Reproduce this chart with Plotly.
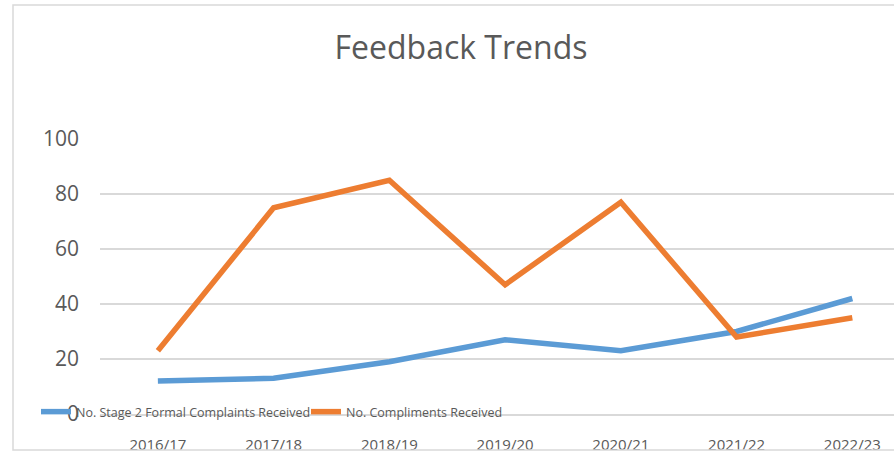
import plotly.graph_objects as go

years = ["2016/17", "2017/18", "2018/19", "2019/20", "2020/21", "2021/22", "2022/23"]
complaints = [12, 13, 19, 27, 23, 30, 42]
compliments = [23, 75, 85, 47, 77, 28, 35]
y_ticks = [0, 20, 40, 60, 80, 100]

FONT = "Open Sans, sans-serif"
TXT = "#595959"
GRID = "#d9d9d9"

L, T, B = 100, 139, 40
W, H = 894, 454
pw = W - L
ph = H - T - B

def px_x(p):
    return (p - L) / pw

def px_y(p):
    return (H - B - p) / ph

fig = go.Figure()
fig.add_trace(go.Scatter(x=years, y=complaints, mode="lines",
                         name="No. Stage 2 Formal Complaints Received",
                         line=dict(color="#5b9bd5", width=5.5), legend="legend",
                         showlegend=True))
fig.add_trace(go.Scatter(x=years, y=compliments, mode="lines",
                         name="No. Compliments Received",
                         line=dict(color="#ed7d31", width=5.5), legend="legend2",
                         showlegend=True))

leg_common = dict(orientation="h", xanchor="left", yanchor="middle",
                  bgcolor="rgba(0,0,0,0)", font=dict(size=12.5, color=TXT),
                  itemwidth=30, borderwidth=0)

fig.update_layout(
    width=W, height=H,
    showlegend=True,
    margin=dict(l=L, r=0, t=T, b=B, autoexpand=False),
    paper_bgcolor="white", plot_bgcolor="white",
    font=dict(family=FONT, color=TXT, size=14),
    title=dict(text="Feedback Trends", x=461 / W, xref="container", xanchor="center",
               y=1 - 48 / H, yref="container", yanchor="middle",
               font=dict(family=FONT, size=32, color=TXT)),
    xaxis=dict(range=[-0.5, 6.36], showgrid=False, showline=True, linecolor=GRID,
               linewidth=1.5, ticks="", tickfont=dict(size=15, color=TXT),
               ticklabelstandoff=16, fixedrange=True, automargin=False),
    yaxis=dict(range=[0, 100], tickvals=y_ticks, showgrid=True, gridcolor=GRID,
               gridwidth=1.5, zeroline=False, showline=False, ticks="",
               tickfont=dict(size=21, color=TXT), ticklabelstandoff=20,
               fixedrange=True, automargin=False),
    legend=dict(x=px_x(36), y=px_y(412), **leg_common),
    legend2=dict(x=px_x(306), y=px_y(412), **leg_common),
    shapes=[
        dict(type="rect", xref="paper", yref="paper",
             x0=px_x(0), x1=px_x(W + 5), y0=px_y(H + 5), y1=px_y(451),
             fillcolor="white", line=dict(width=0), layer="above"),
        dict(type="rect", xref="paper", yref="paper",
             x0=px_x(13), x1=px_x(W + 20), y0=px_y(450), y1=px_y(5),
             line=dict(color=GRID, width=1.5), layer="above"),
    ],
)

fig.write_html("out.html", config={"displayModeBar": False},
               post_script="document.body.style.margin='0';document.body.style.overflow='hidden';")
